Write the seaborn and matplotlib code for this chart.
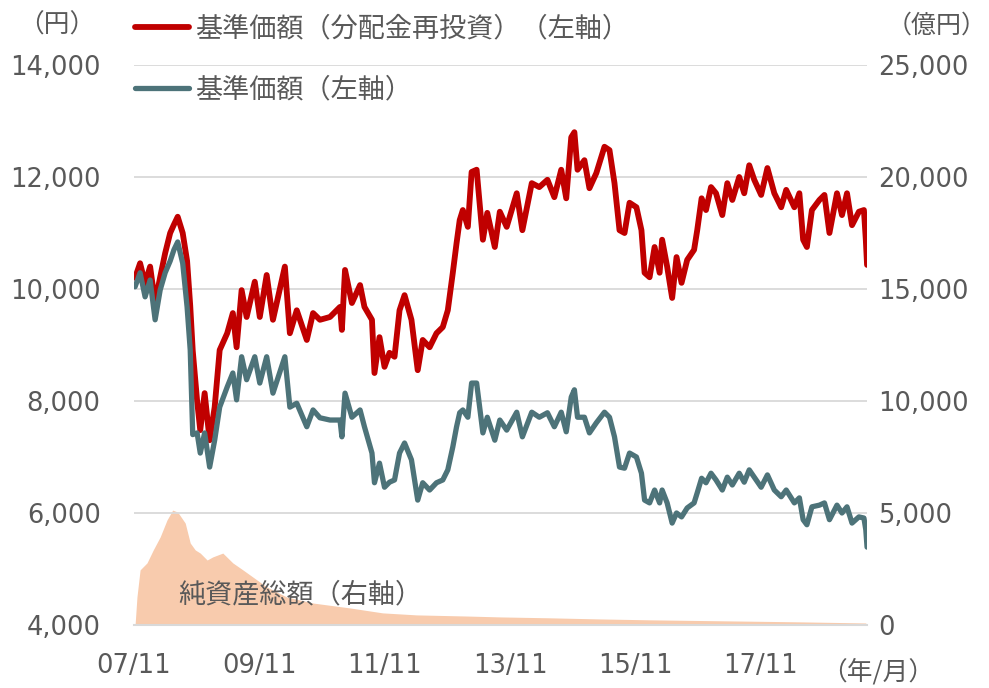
import matplotlib
matplotlib.use("Agg")
import matplotlib.pyplot as plt
import seaborn as sns

# 時点（小数年）と基準価額
years = [2007.85, 2007.93, 2008.01, 2008.09, 2008.17, 2008.25, 2008.33, 2008.41, 2008.47, 2008.53,
         2008.61, 2008.68, 2008.73, 2008.77, 2008.84, 2008.89, 2008.96, 2009.04, 2009.12, 2009.20,
         2009.32, 2009.41, 2009.47, 2009.55, 2009.63, 2009.76, 2009.84, 2009.95, 2010.05, 2010.14,
         2010.24, 2010.32, 2010.43, 2010.59, 2010.69, 2010.80, 2010.96, 2011.12, 2011.15, 2011.20,
         2011.31, 2011.44, 2011.51, 2011.63, 2011.67, 2011.75, 2011.83, 2011.91, 2011.99, 2012.07,
         2012.15, 2012.26, 2012.36, 2012.44, 2012.55, 2012.66, 2012.76, 2012.84, 2012.92, 2012.98,
         2013.03, 2013.08, 2013.16, 2013.22, 2013.30, 2013.40, 2013.47, 2013.59, 2013.67, 2013.78,
         2013.94, 2014.03, 2014.18, 2014.30, 2014.43, 2014.54, 2014.65, 2014.73, 2014.81, 2014.86,
         2014.91, 2015.02, 2015.10, 2015.21, 2015.34, 2015.42, 2015.50, 2015.58, 2015.66, 2015.74,
         2015.85, 2015.93, 2015.98, 2016.06, 2016.14, 2016.22, 2016.26, 2016.34, 2016.42, 2016.49,
         2016.57, 2016.66, 2016.77, 2016.82, 2016.89, 2016.96, 2017.04, 2017.12, 2017.22, 2017.30,
         2017.38, 2017.49, 2017.57, 2017.65, 2017.73, 2017.84, 2017.94, 2018.05, 2018.16, 2018.24,
         2018.37, 2018.45, 2018.51, 2018.57, 2018.65, 2018.77, 2018.85, 2018.93, 2019.05, 2019.13,
         2019.21, 2019.29, 2019.40, 2019.48, 2019.51, 2019.53]

nav_reinvested = [10200, 10460, 10100, 10400, 9750, 10210, 10640, 11000, 11150, 11290,
                  11000, 10500, 9700, 8900, 8000, 7480, 8140, 7300, 7890, 8910,
                  9210, 9570, 8960, 9980, 9500, 10130, 9500, 10250, 9450, 9900,
                  10400, 9210, 9620, 9090, 9570, 9450, 9500, 9680, 9270, 10340,
                  9750, 10070, 9680, 9450, 8500, 9140, 8610, 8860, 8790, 9620,
                  9890, 9450, 8550, 9090, 8960, 9210, 9320, 9620, 10290, 10820,
                  11230, 11410, 11110, 12090, 12130, 10880, 11360, 10750, 11380, 11110,
                  11710, 11050, 11890, 11820, 11950, 11640, 12130, 11620, 12710, 12800,
                  12130, 12300, 11800, 12070, 12540, 12480, 11890, 11050, 11000, 11540,
                  11460, 11050, 10290, 10210, 10750, 10290, 10880, 10400, 9840, 10570,
                  10110, 10520, 10700, 11050, 11620, 11410, 11820, 11710, 11320, 11890,
                  11590, 12000, 11710, 12210, 11950, 11680, 12160, 11710, 11460, 11770,
                  11460, 11710, 10880, 10750, 11410, 11590, 11680, 11000, 11710, 11320,
                  11710, 11140, 11380, 11410, 10880, 10430]

nav = [10040, 10290, 9860, 10160, 9450, 9980, 10290, 10500, 10700, 10840,
       10460, 9680, 8910, 7400, 7430, 7070, 7430, 6820, 7300, 7890,
       8250, 8500, 8020, 8790, 8380, 8790, 8320, 8790, 8140, 8450,
       8790, 7890, 7960, 7540, 7840, 7700, 7660, 7660, 7360, 8140,
       7710, 7840, 7540, 7070, 6540, 6890, 6460, 6550, 6590, 7070,
       7250, 6950, 6230, 6540, 6410, 6540, 6590, 6770, 7180, 7540,
       7790, 7840, 7710, 8320, 8320, 7430, 7710, 7300, 7660, 7480,
       7800, 7360, 7800, 7710, 7790, 7540, 7800, 7450, 8070, 8200,
       7710, 7710, 7430, 7610, 7800, 7710, 7360, 6820, 6800, 7070,
       7000, 6710, 6230, 6180, 6410, 6180, 6410, 6180, 5820, 6000,
       5930, 6090, 6180, 6360, 6620, 6540, 6710, 6590, 6410, 6640,
       6500, 6710, 6550, 6770, 6640, 6460, 6680, 6410, 6290, 6410,
       6180, 6270, 5880, 5790, 6110, 6140, 6180, 5880, 6140, 6000,
       6110, 5820, 5930, 5910, 5700, 5390]

# 純資産総額（億円）
aum_years = [2007.85, 2007.88, 2007.93, 2008.04, 2008.14, 2008.25, 2008.36, 2008.45, 2008.53, 2008.65,
             2008.73, 2008.81, 2008.89, 2009.00, 2009.09, 2009.25, 2009.41, 2009.57, 2009.73, 2009.95,
             2010.27, 2010.69, 2011.28, 2011.80, 2012.34, 2013.14, 2013.67, 2014.46, 2015.26, 2016.06,
             2016.85, 2017.65, 2018.45, 2019.51]
aum = [0, 1250, 2460, 2770, 3350, 3930, 4690, 5130, 5040, 4550,
       3660, 3350, 3210, 2900, 3040, 3210, 2770, 2460, 2140, 1700,
       1250, 980, 760, 540, 450, 400, 360, 320, 270, 230,
       200, 170, 140, 90]

tick_years = [2007.833, 2009.833, 2011.833, 2013.833, 2015.833, 2017.833]
tick_labels = ['07/11', '09/11', '11/11', '13/11', '15/11', '17/11']

sns.set_theme(style='white')
plt.rcParams['font.family'] = ['DejaVu Sans', 'Noto Sans CJK JP']
plt.rcParams['lines.solid_joinstyle'] = 'round'
plt.rcParams['lines.solid_capstyle'] = 'round'

text_color = '#595959'
jp = ['Noto Sans CJK JP', 'DejaVu Sans']
jp_size = 19.5

fig = plt.figure(figsize=(9.89, 6.88), dpi=100)
ax = fig.add_axes([0.1355, 0.0916, 0.7412, 0.8139])
ax2 = ax.twinx()

ax2.fill_between(aum_years, aum, color='#F8CBAD', lw=0)
ax2.set_ylim(0, 25000)
ax2.set_yticks(range(0, 25001, 5000))
ax2.set_yticklabels([f'{v:,}' for v in range(0, 25001, 5000)])

ax.set_zorder(ax2.get_zorder() + 1)
ax.patch.set_visible(False)

sns.lineplot(x=years, y=nav_reinvested, ax=ax, color='#C00000', linewidth=4.2,
             label='基準価額（分配金再投資）（左軸）')
sns.lineplot(x=years, y=nav, ax=ax, color='#4D7379', linewidth=3.8,
             label='基準価額（左軸）')

ax.set_ylim(4000, 14000)
ax.set_yticks(range(4000, 14001, 2000))
ax.set_yticklabels([f'{v:,}' for v in range(4000, 14001, 2000)])
ax.set_xlim(2007.833, 2019.53)
ax.set_xticks(tick_years)
ax.set_xticklabels(tick_labels)
ax.grid(axis='y', color='#D9D9D9', linewidth=1.3)
ax.grid(axis='x', visible=False)
ax2.grid(False)

for a in (ax, ax2):
    for s in ('left', 'right', 'top', 'bottom'):
        a.spines[s].set_visible(False)
ax.spines['bottom'].set_visible(True)
ax.spines['bottom'].set_color('#D9D9D9')
ax.spines['bottom'].set_linewidth(1.5)

ax.tick_params(axis='y', labelsize=18.5, labelcolor=text_color, length=0, pad=24)
ax2.tick_params(axis='y', labelsize=18.5, labelcolor=text_color, length=0, pad=8)
ax.tick_params(axis='x', labelsize=18.5, labelcolor=text_color, direction='in',
               length=7, width=1.5, color='#D9D9D9', pad=20)
ax.set_xlabel('')
ax.set_ylabel('')

handles, labels = ax.get_legend_handles_labels()
ax.get_legend().remove()
leg = fig.legend(handles, labels, loc='upper left', bbox_to_anchor=(0.136, 0.978),
                 frameon=False, handlelength=2.0, handletextpad=0.25,
                 labelspacing=1.25, borderpad=0, borderaxespad=0,
                 prop={'family': jp, 'size': jp_size})
for t in leg.get_texts():
    t.set_color(text_color)

ax.text(0.060, 0.054, '純資産総額（右軸）', transform=ax.transAxes, fontsize=jp_size,
        color=text_color, family=jp, va='center', ha='left')
ax.text(-0.105, 1.071, '（円）', transform=ax.transAxes, fontsize=18.5,
        color=text_color, family=jp, va='center', ha='center')
ax.text(1.0945, 1.071, '（億円）', transform=ax.transAxes, fontsize=18,
        color=text_color, family=jp, va='center', ha='center')
ax.text(1.015, -0.084, '（年/月）', transform=ax.transAxes, fontsize=18.5,
        color=text_color, family=jp, va='center', ha='center')

plt.savefig('out.png', dpi=100)
